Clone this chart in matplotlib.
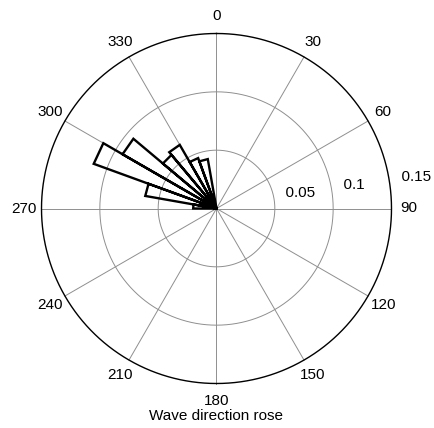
import numpy as np
import matplotlib
matplotlib.use("Agg")
import matplotlib.pyplot as plt

plt.rcParams['font.family'] = ['Liberation Sans', 'DejaVu Sans']

# ---- data (compass degrees, bin start; 10-degree bins) ----
bin_start = [270, 280, 290, 300, 310, 320, 330, 340]
bin_width = 10
frequency = [0.020, 0.062, 0.112, 0.093, 0.060, 0.063, 0.046, 0.043]

ring_values = [0.05, 0.1, 0.15]
ring_labels = ['0.05', '0.1', '0.15']
spoke_angles = list(range(0, 360, 30))
angle_labels = [str(a) for a in spoke_angles]
rmax = 0.15
xlabel_text = 'Wave direction rose'

# ---- figure ----
W, H = 435, 428
fig = plt.figure(figsize=(W / 100, H / 100), dpi=100)
ax = fig.add_axes([0, 0, 1, 1])
ax.axis('off')

cx, cy, Rpx = 216.5, 208.5, 175.0
s = Rpx / rmax
ax.set_xlim(-cx / s, (W - cx) / s)
ax.set_ylim(-(H - cy) / s, cy / s)


def pol(r, deg):
    t = np.deg2rad(deg)
    return r * np.sin(t), r * np.cos(t)


th = np.linspace(0, 360, 721)
grid_col = '#8f8f8f'
# inner rings
for rv in ring_values[:-1]:
    x, y = pol(rv, th)
    ax.plot(x, y, color=grid_col, lw=0.7, zorder=1)
# spokes
for a in spoke_angles:
    x, y = pol(np.array([0, rmax]), a)
    ax.plot(x, y, color=grid_col, lw=0.7, zorder=1)
# outer circle
x, y = pol(rmax, th)
ax.plot(x, y, color='black', lw=1.0, zorder=2)

# angle labels
for a, lab in zip(spoke_angles, angle_labels):
    x, y = pol(1.1 * rmax, a)
    ax.text(x, y, lab, ha='center', va='center', fontsize=11)

# radial labels
for rv, lab in zip(ring_values, ring_labels):
    x, y = pol(rv + rmax / 3 / 20, 82)
    ax.text(x, y, '  ' + lab, ha='left', va='bottom', fontsize=11)

# rose wedges
xs, ys = [0.0], [0.0]
for b, f in zip(bin_start, frequency):
    x1, y1 = pol(f, b)
    x2, y2 = pol(f, b + bin_width)
    xs += [x1, x2, 0.0]
    ys += [y1, y2, 0.0]
ax.plot(xs, ys, color='black', lw=1.7, zorder=3, solid_joinstyle='miter')

# label
ax.text(0, -(416 - cy) / s, xlabel_text, ha='center', va='center', fontsize=11)

fig.savefig('out.png', dpi=100)
